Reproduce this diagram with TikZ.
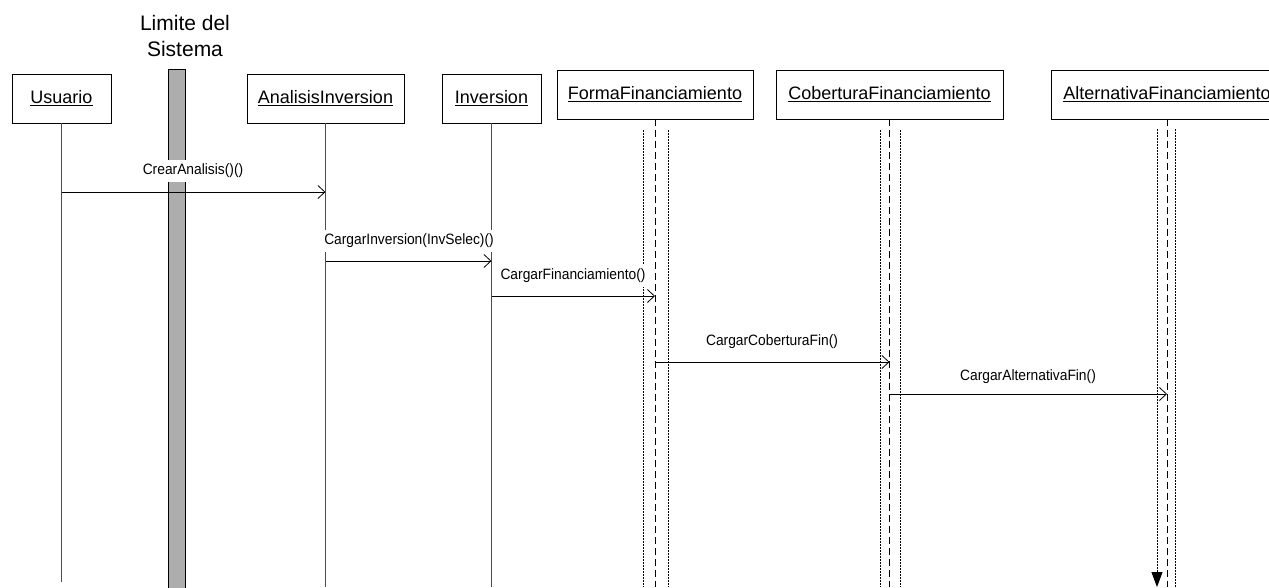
\documentclass[tikz,border=0pt]{standalone}
\usepackage{fontspec}
\setmainfont{Liberation Sans}
\newfontfamily\msgfont[FakeStretch=0.92]{Liberation Sans}
\usetikzlibrary{arrows.meta}
\begin{document}
\begin{tikzpicture}[x=1pt,y=-1pt,
  obj/.style={draw, line width=0.7pt, minimum height=49pt, inner sep=0pt,
              font=\fontsize{18}{20}\selectfont},
  msg/.style={-{Straight Barb[length=7pt,width=13pt,line width=0.8pt]}, line width=0.8pt},
  lbl/.style={font=\msgfont\fontsize{15}{17}\selectfont, inner xsep=1pt, inner ysep=4pt, fill=white},
  life/.style={black!70, line width=0.7pt},
  focus/.style={dash pattern=on 7pt off 4pt, line width=0.7pt},
  side/.style={dash pattern=on 1.5pt off 1.5pt, line width=0.8pt}]

\useasboundingbox (0,0) rectangle (1269,587);

% system boundary (drawn first so messages cross over it)
\node[draw, line width=1pt, fill=black!32,
      minimum width=17pt, minimum height=520pt, inner sep=0pt, anchor=north]
      (lim) at (176.5,69) {};
\node[align=center, inner sep=0pt, font=\fontsize{21}{26}\selectfont]
      (limlbl) at (185,35.5) {Limite del\\Sistema};

% participants
\node[obj, minimum width=99pt]  (usr)  at (61.5,98.5)  {\underline{Usuario}};
\node[obj, minimum width=157pt] (ana)  at (325.5,98.5) {\underline{AnalisisInversion}};
\node[obj, minimum width=99pt]  (inv)  at (491.5,98.5) {\underline{Inversion}};
\node[obj, minimum width=196pt] (forma) at (655,94.5)  {\underline{FormaFinanciamiento}};
\node[obj, minimum width=227pt] (cob)  at (889.5,94.5) {\underline{CoberturaFinanciamiento}};
\node[obj, minimum width=232pt] (alt)  at (1167,94.5)  {\underline{AlternativaFinanciamiento}};

% plain lifelines
\draw[life] (usr.south) -- ++(0,459);
\draw[life] (ana.south) -- ++(0,464);
\draw[life] (inv.south) -- ++(0,464);

% lifelines with focus of control
\draw[focus] (forma.south) -- ++(0,468);
\draw[side] (643,130) -- (643,587);
\draw[side] (668,130) -- (668,587);

\draw[focus] (cob.south) -- ++(0,468);
\draw[side] (880,130) -- (880,587);
\draw[side] (900,130) -- (900,587);

\draw[focus] (alt.south) -- ++(0,468);
\coordinate (altTop) at (1157,129);
\coordinate (altEnd) at (1157,587);
\draw[side, -{Triangle[length=15pt,width=11pt]}] (altTop) -- (altEnd);
\draw[side] (1175,129) -- (1175,587);

% message anchor points on the lifelines
\coordinate (m1a) at (61.5,192);  \coordinate (m1b) at (325.5,192);
\coordinate (m2a) at (325.5,261); \coordinate (m2b) at (491.5,261);
\coordinate (m3a) at (491.5,296); \coordinate (m3b) at (655,296);
\coordinate (m4a) at (655,362);   \coordinate (m4b) at (889.5,362);
\coordinate (m5a) at (889.5,394); \coordinate (m5b) at (1167,394);

% messages
\draw[msg] (m1a) -- (m1b);
\draw[msg] (m2a) -- (m2b);
\draw[msg] (m3a) -- (m3b);
\draw[msg] (m4a) -- (m4b);
\draw[msg] (m5a) -- (m5b);

\node[lbl] (l1) at (193,171) {CrearAnalisis()()};
\node[lbl] (l2) at (409,241) {CargarInversion(InvSelec)()};
\node[lbl] (l3) at (573,276) {CargarFinanciamiento()};
\node[lbl] (l4) at (772,342) {CargarCoberturaFin()};
\node[lbl] (l5) at (1028,377) {CargarAlternativaFin()};
\end{tikzpicture}
\end{document}
